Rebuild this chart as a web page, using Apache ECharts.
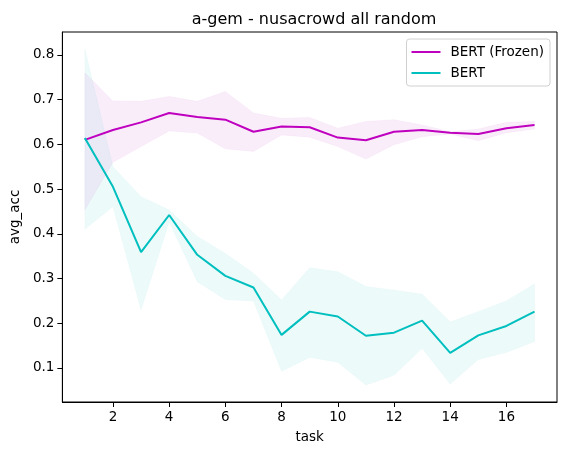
<!DOCTYPE html>
<html>
<head>
<meta charset="utf-8">
<script src="https://cdn.jsdelivr.net/npm/echarts@6/dist/echarts.min.js"></script>
<style>
html,body{margin:0;padding:0;background:#fff}
#chart{width:567px;height:455px}
</style>
</head>
<body>
<div id="chart"></div>
<script>
// data
var tasks = [1, 2, 3, 4, 5, 6, 7, 8, 9, 10, 11, 12, 13, 14, 15, 16, 17];
var frozenMean = [0.610, 0.632, 0.649, 0.670, 0.661, 0.655, 0.628, 0.640, 0.638, 0.615, 0.609, 0.628, 0.632, 0.626, 0.623, 0.636, 0.643];
var frozenLow  = [0.453, 0.560, 0.595, 0.630, 0.625, 0.590, 0.584, 0.621, 0.616, 0.595, 0.567, 0.599, 0.617, 0.623, 0.608, 0.626, 0.634];
var frozenHigh = [0.760, 0.697, 0.696, 0.707, 0.696, 0.718, 0.670, 0.658, 0.660, 0.636, 0.651, 0.655, 0.643, 0.628, 0.634, 0.649, 0.651];
var bertMean = [0.614, 0.505, 0.359, 0.442, 0.353, 0.306, 0.280, 0.174, 0.226, 0.215, 0.172, 0.179, 0.206, 0.134, 0.173, 0.194, 0.226];
var bertLow  = [0.410, 0.461, 0.230, 0.427, 0.293, 0.253, 0.250, 0.093, 0.124, 0.113, 0.062, 0.084, 0.144, 0.064, 0.119, 0.135, 0.159];
var bertHigh = [0.813, 0.550, 0.483, 0.453, 0.394, 0.356, 0.312, 0.252, 0.324, 0.315, 0.282, 0.274, 0.265, 0.203, 0.226, 0.250, 0.288];
var xTicks = [2, 4, 6, 8, 10, 12, 14, 16];
var yTicks = [0.1, 0.2, 0.3, 0.4, 0.5, 0.6, 0.7, 0.8];

var font = 'DejaVu Sans';
var MAG = '#bf00bf', CYA = '#00bfbf';

function pairs(ys) {
  return tasks.map(function (t, i) { return [t, ys[i]]; });
}

// shaded band as one polygon, points mapped through the axes
function band(name, lo, hi, color) {
  return {
    name: name, type: 'custom', silent: true, z: 1,
    data: tasks.map(function (t, i) { return [t, lo[i], hi[i]]; }),
    renderItem: function (params, api) {
      if (params.dataIndex !== 0) return;
      var pts = [];
      for (var i = 0; i < tasks.length; i++) pts.push(api.coord([tasks[i], hi[i]]));
      for (var j = tasks.length - 1; j >= 0; j--) pts.push(api.coord([tasks[j], lo[j]]));
      return {
        type: 'polygon',
        shape: { points: pts },
        style: { fill: color, opacity: 0.07, stroke: color, lineWidth: 0.6 }
      };
    }
  };
}

var chart = echarts.init(document.getElementById('chart'));
var option = {
  animation: false,
  textStyle: { fontFamily: font },
  title: {
    text: 'a-gem - nusacrowd all random',
    left: 309, top: 7, textAlign: 'center',
    textStyle: { fontFamily: font, fontSize: 16, fontWeight: 'normal', color: '#000' }
  },
  legend: {
    data: ['BERT (Frozen)', 'BERT'],
    orient: 'vertical',
    right: 17, top: 39,
    icon: 'rect', itemWidth: 29, itemHeight: 2, itemGap: 5,
    padding: [5, 6, 5, 5],
    borderColor: '#d0d0d0', borderWidth: 1, borderRadius: 3,
    textStyle: { fontFamily: font, fontSize: 13.5, color: '#000', padding: [0, 0, 0, 5], lineHeight: 16 }
  },
  grid: {
    left: 62, right: 10, top: 32, bottom: 53,
    show: true, borderColor: '#000', borderWidth: 1
  },
  xAxis: {
    type: 'value', min: 0.2, max: 17.8,
    name: 'task', nameLocation: 'middle', nameGap: 28,
    nameTextStyle: { fontFamily: font, fontSize: 13.5, color: '#000' },
    axisLine: { lineStyle: { color: '#000' } },
    axisTick: { show: true, length: 5, lineStyle: { color: '#000' }, customValues: xTicks },
    axisLabel: { fontFamily: font, fontSize: 13.5, color: '#000', margin: 8, customValues: xTicks },
    splitLine: { show: false }
  },
  yAxis: {
    type: 'value', min: 0.024, max: 0.851,
    name: 'avg_acc', nameLocation: 'middle', nameGap: 38,
    nameTextStyle: { fontFamily: font, fontSize: 13.5, color: '#000' },
    axisLine: { show: true, lineStyle: { color: '#000' } },
    axisTick: { show: true, length: 5, lineStyle: { color: '#000' }, customValues: yTicks },
    axisLabel: { fontFamily: font, fontSize: 13.5, color: '#000', margin: 8, customValues: yTicks,
      formatter: function (v) { return v.toFixed(1); } },
    splitLine: { show: false }
  },
  series: [
    band('frozen-band', frozenLow, frozenHigh, MAG),
    { name: 'BERT (Frozen)', type: 'line', data: pairs(frozenMean), symbol: 'none',
      color: MAG, lineStyle: { width: 2, color: MAG }, z: 5 },
    band('bert-band', bertLow, bertHigh, CYA),
    { name: 'BERT', type: 'line', data: pairs(bertMean), symbol: 'none',
      color: CYA, lineStyle: { width: 2, color: CYA }, z: 6 }
  ]
};
chart.setOption(option);
</script>
</body>
</html>
